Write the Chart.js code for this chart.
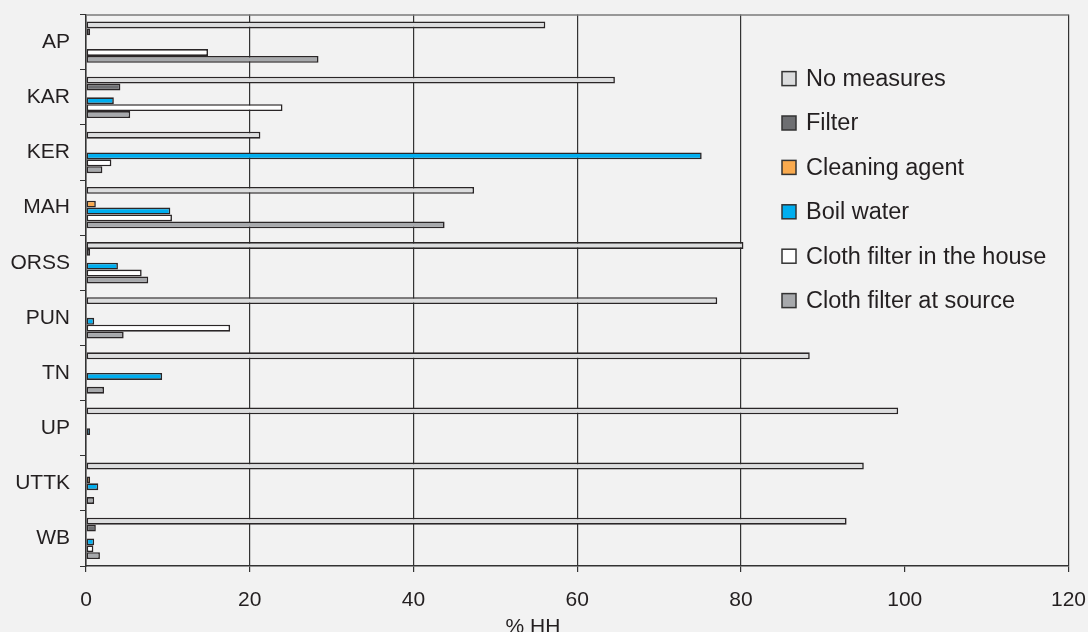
<!DOCTYPE html>
<html>
<head>
<meta charset="utf-8">
<style>
  html, body { margin: 0; padding: 0; background: #f2f2f2; overflow: hidden; }
  #wrap { width: 1088px; height: 632px; overflow: hidden; position: relative; }
  /* canvas slightly larger than the page so the auto label margins fall outside */
  #hhChart { position: absolute; left: 0; top: -8px; }
</style>
<script src="https://cdn.jsdelivr.net/npm/chart.js"></script>
</head>
<body>
<div id="wrap"><canvas id="hhChart" width="1102" height="640"></canvas></div>
<script>
    // States surveyed
    const states = ['AP', 'KAR', 'KER', 'MAH', 'ORSS', 'PUN', 'TN', 'UP', 'UTTK', 'WB'];

    // Share of households (%) per water treatment practice
    const noMeasures   = [56.1, 64.6, 21.3, 47.4, 80.3, 77.1, 88.4, 99.2, 95.0, 92.9];
    const filter       = [0.5, 4.2, null, null, 0.5, null, null, null, null, 1.2];
    const cleaningAgent = [null, null, null, 1.2, null, null, null, null, 0.5, null];
    const boilWater    = [null, 3.4, 75.2, 10.3, 3.9, 1.0, 9.3, 0.5, 1.5, 1.0];
    const clothHouse   = [14.9, 24.0, 3.1, 10.5, 6.8, 17.6, null, null, null, 0.9];
    const clothSource  = [28.4, 5.4, 2.0, 43.8, 7.6, 4.6, 2.2, null, 1.0, 1.7];

    const xTicks = [0, 20, 40, 60, 80, 100, 120];

    const seriesNames = ['No measures', 'Filter', 'Cleaning agent', 'Boil water',
                         'Cloth filter in the house', 'Cloth filter at source'];
    const seriesColors = ['#dcddde', '#6d6e71', '#f9aa4e', '#00aeef', '#ffffff', '#a7a9ac'];
    const seriesValues = [noMeasures, filter, cleaningAgent, boilWater, clothHouse, clothSource];

    const textColor = '#231f20';
    const lineColor = '#333333';
    const barEdge = '#2a2627';
    const fontFamily = '"Liberation Sans", Arial, Helvetica, sans-serif';

    // Plot frame, legend and axis title drawn by hand
    const decorations = {
        id: 'decorations',
        beforeDatasetsDraw(chart) {
            const { ctx, chartArea: a } = chart;
            ctx.save();
            ctx.strokeStyle = '#7a7a7a';
            ctx.lineWidth = 1.5;
            ctx.beginPath();
            ctx.moveTo(a.left, a.top + 0.5);
            ctx.lineTo(a.right, a.top + 0.5);
            ctx.stroke();
            ctx.restore();
        },
        afterDraw(chart) {
            const { ctx, chartArea: a } = chart;
            ctx.save();
            ctx.font = '23.5px ' + fontFamily;
            ctx.textBaseline = 'middle';
            ctx.textAlign = 'left';
            const x0 = a.left + 696;
            const y0 = a.top + 64;
            chart.data.datasets.forEach((ds, i) => {
                const y = y0 + i * 44.4;
                ctx.fillStyle = ds.backgroundColor;
                ctx.fillRect(x0, y - 7, 14, 14);
                ctx.strokeStyle = lineColor;
                ctx.lineWidth = 1.5;
                ctx.strokeRect(x0, y - 7, 14, 14);
                ctx.fillStyle = textColor;
                ctx.fillText(ds.label, x0 + 24, y + 1);
            });

            // axis title, partly below the page edge
            ctx.font = '21px ' + fontFamily;
            ctx.textAlign = 'center';
            ctx.textBaseline = 'top';
            ctx.fillText('% HH', a.left + (a.right - a.left) * 0.455, a.bottom + 51);
            ctx.restore();
        }
    };

    const ctx = document.getElementById('hhChart').getContext('2d');
    const chart = new Chart(ctx, {
        type: 'bar',
        data: {
            labels: states,
            datasets: seriesNames.map((name, i) => ({
                label: name,
                data: seriesValues[i],
                backgroundColor: seriesColors[i],
                borderColor: barEdge,
                borderWidth: 1.6,
                borderSkipped: false,
                categoryPercentage: 0.75,
                barPercentage: 1.0
            }))
        },
        options: {
            indexAxis: 'y',
            responsive: false,
            animation: false,
            layout: { padding: { top: 6, right: 11, left: 0, bottom: 0 } },
            plugins: {
                legend: { display: false },
                tooltip: { enabled: false }
            },
            scales: {
                x: {
                    min: 0,
                    max: 120,
                    afterBuildTicks(scale) {
                        scale.ticks = xTicks.map(v => ({ value: v }));
                    },
                    afterFit(scale) { scale.height = 66; },
                    grid: {
                        color: c => (c.tick && (c.tick.value === 100)) ? 'rgba(0,0,0,0)' : lineColor,
                        tickColor: lineColor,
                        lineWidth: 1.2,
                        tickLength: 6
                    },
                    border: { color: lineColor, width: 1.5 },
                    ticks: {
                        color: textColor,
                        font: { family: fontFamily, size: 21 },
                        padding: 16,
                        maxRotation: 0
                    }
                },
                y: {
                    afterFit(scale) { scale.width = 86; },
                    grid: {
                        offset: true,
                        drawOnChartArea: false,
                        tickColor: lineColor,
                        tickLength: 6
                    },
                    border: { color: lineColor, width: 1.5 },
                    ticks: {
                        color: textColor,
                        font: { family: fontFamily, size: 21 },
                        padding: 10
                    }
                }
            }
        },
        plugins: [decorations]
    });
</script>
</body>
</html>
